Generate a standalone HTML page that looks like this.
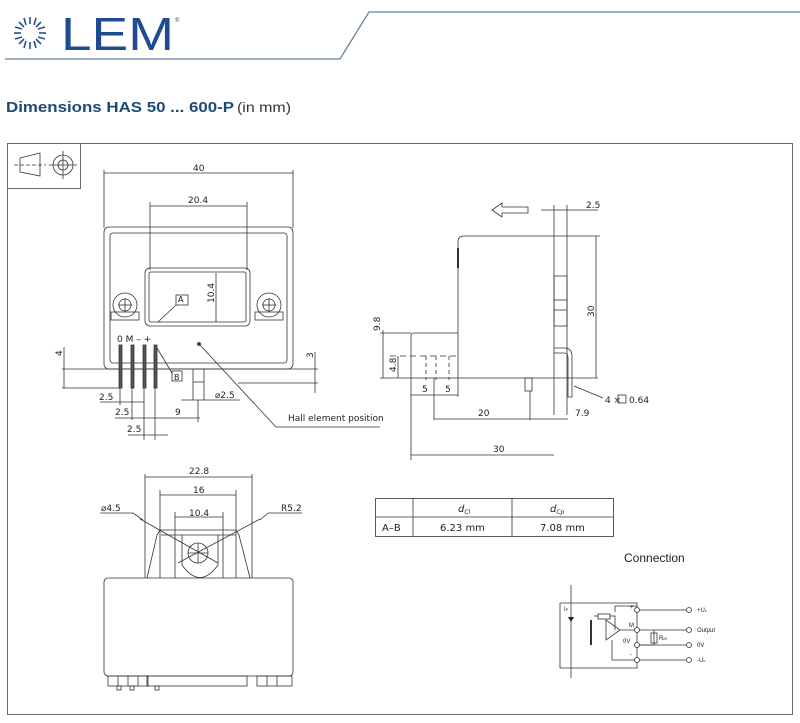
<!DOCTYPE html>
<html><head><meta charset="utf-8"><style>
html,body{margin:0;padding:0;background:#fff;width:800px;height:723px;overflow:hidden}
svg{display:block}
.t{font-family:"DejaVu Sans","Liberation Sans",sans-serif;font-size:9px;fill:#222}
</style></head><body>
<svg width="800" height="723" viewBox="0 0 800 723" xmlns="http://www.w3.org/2000/svg">
<!-- header -->
<g stroke="#2a4f8f" stroke-width="1.6">
<line x1="30" y1="17" x2="30" y2="24"/><line x1="30" y1="42" x2="30" y2="49"/>
<line x1="14" y1="33" x2="21" y2="33"/><line x1="39" y1="33" x2="46" y2="33"/>
<line x1="19" y1="22" x2="24" y2="27"/><line x1="36" y1="39" x2="41" y2="44"/>
<line x1="41" y1="22" x2="36" y2="27"/><line x1="24" y1="39" x2="19" y2="44"/>
<line x1="24" y1="18" x2="26" y2="25"/><line x1="36" y1="18" x2="34" y2="25"/>
<line x1="24" y1="48" x2="26" y2="41"/><line x1="36" y1="48" x2="34" y2="41"/>
<line x1="15" y1="27" x2="22" y2="29"/><line x1="45" y1="27" x2="38" y2="29"/>
<line x1="15" y1="39" x2="22" y2="37"/><line x1="45" y1="39" x2="38" y2="37"/>
</g>
<text x="61" y="50" font-family="Liberation Sans,sans-serif" font-size="46" fill="#1f4b93" textLength="113" lengthAdjust="spacingAndGlyphs">LEM</text>
<text x="175" y="22" font-family="Liberation Sans,sans-serif" font-size="6" fill="#1f4b93">®</text>
<polyline points="5,59 340,59 369,12 800,12" fill="none" stroke="#5f7f99" stroke-width="1.2"/>
<text x="6" y="112" font-family="Liberation Sans,sans-serif" font-size="15" font-weight="bold" fill="#1c4a78" textLength="228" lengthAdjust="spacingAndGlyphs">Dimensions HAS 50 ... 600-P</text>
<text x="237" y="112" font-family="Liberation Sans,sans-serif" font-size="14" fill="#333" textLength="54" lengthAdjust="spacingAndGlyphs">(in mm)</text>

<!-- frame -->
<rect x="7.5" y="143.5" width="785" height="571" fill="none" stroke="#666" stroke-width="1"/>
<rect x="7.5" y="143.5" width="73" height="45" fill="none" stroke="#666" stroke-width="1"/>
<g stroke="#333" fill="none" stroke-width="0.8">
<polygon points="20,158 40,153 40,176 20,172"/>
<line x1="14" y1="165" x2="46" y2="165" stroke-dasharray="4,2"/>
<circle cx="63" cy="165" r="10"/><circle cx="63" cy="165" r="5"/>
<line x1="49" y1="165" x2="77" y2="165"/><line x1="63" y1="151" x2="63" y2="179"/>
</g>

<g stroke="#333" fill="none" stroke-width="0.8">
<!-- front view -->
<line x1="104" y1="170" x2="104" y2="228"/><line x1="293" y1="170" x2="293" y2="228"/>
<line x1="104" y1="173" x2="293" y2="173"/>
<line x1="150" y1="202" x2="150" y2="270"/><line x1="247" y1="202" x2="247" y2="270"/>
<line x1="150" y1="206" x2="247" y2="206"/>
<rect x="104" y="227" width="189" height="142" rx="5"/>
<rect x="110" y="233" width="177" height="130" rx="3"/>
<rect x="145" y="268" width="105" height="58" rx="5"/>
<rect x="149" y="272" width="97" height="50" rx="2"/>
<line x1="216" y1="273" x2="216" y2="322"/>
<rect x="176" y="295" width="12" height="10"/>
<line x1="176" y1="305" x2="158" y2="322"/>
<circle cx="125" cy="305" r="12"/><circle cx="125" cy="305" r="6"/>
<line x1="118" y1="305" x2="132" y2="305"/><line x1="125" y1="298" x2="125" y2="312"/>
<rect x="111" y="312" width="28" height="8"/>
<circle cx="269" cy="305" r="12"/><circle cx="269" cy="305" r="6"/>
<line x1="262" y1="305" x2="276" y2="305"/><line x1="269" y1="298" x2="269" y2="312"/>
<rect x="255" y="312" width="28" height="8"/>
<line x1="62" y1="369" x2="318" y2="369"/>
<line x1="62" y1="388" x2="120" y2="388"/><line x1="238" y1="383" x2="318" y2="383"/>
<line x1="64" y1="347" x2="64" y2="388"/><line x1="315" y1="352" x2="315" y2="393"/>
<rect x="119" y="345" width="3" height="43" fill="#555"/>
<rect x="131" y="345" width="3" height="43" fill="#555"/>
<rect x="143" y="345" width="3" height="43" fill="#555"/>
<rect x="154" y="345" width="3" height="43" fill="#555"/>
<rect x="172" y="371" width="10" height="10"/>
<line x1="157" y1="348" x2="172" y2="373"/>
<line x1="193" y1="369" x2="193" y2="400"/><line x1="204" y1="369" x2="204" y2="400"/>
<line x1="193" y1="382" x2="204" y2="382"/>
<line x1="181" y1="400" x2="240" y2="400"/>
<line x1="100" y1="402" x2="144" y2="402"/>
<line x1="115" y1="418" x2="200" y2="418"/>
<line x1="128" y1="435" x2="168" y2="435"/>
<line x1="120" y1="388" x2="120" y2="405"/><line x1="132" y1="388" x2="132" y2="420"/>
<line x1="144" y1="388" x2="144" y2="440"/><line x1="155" y1="388" x2="155" y2="440"/>
<line x1="198" y1="400" x2="198" y2="422"/>
<circle cx="199" cy="344" r="1.5" fill="#333"/>
<polyline points="199,344 276,427 380,427"/>

<!-- side view -->
<polygon points="492,210 502,203 502,207 528,207 528,213 502,213 502,217" />
<line x1="541" y1="210" x2="598" y2="210"/>
<line x1="554" y1="205" x2="554" y2="415"/><line x1="567" y1="205" x2="567" y2="415"/>
<path d="M458,378 L458,242 Q458,236 464,236 L554,236"/>
<line x1="554" y1="236" x2="600" y2="236"/><line x1="596" y1="236" x2="596" y2="378"/>
<line x1="458" y1="248" x2="458" y2="268" stroke-width="2"/>
<path d="M411,378 L411,336 Q411,333 414,333 L458,333"/>
<line x1="380" y1="333" x2="411" y2="333"/>
<line x1="380" y1="378" x2="598" y2="378"/>
<line x1="383" y1="330" x2="383" y2="378"/>
<line x1="390" y1="356" x2="458" y2="356" stroke-dasharray="6,4"/>
<line x1="398" y1="356" x2="398" y2="378"/>
<line x1="426" y1="356" x2="426" y2="380" stroke-dasharray="4,3"/>
<line x1="436" y1="356" x2="436" y2="380" stroke-dasharray="4,3"/>
<line x1="449" y1="356" x2="449" y2="380" stroke-dasharray="4,3"/>
<line x1="411" y1="378" x2="411" y2="460"/><line x1="434" y1="378" x2="434" y2="420"/>
<line x1="458" y1="378" x2="458" y2="397"/>
<line x1="411" y1="395" x2="458" y2="395"/>
<line x1="434" y1="419" x2="568" y2="419"/>
<line x1="411" y1="455" x2="554" y2="455"/>
<rect x="525" y="378" width="7" height="13"/>
<line x1="530" y1="391" x2="530" y2="420"/>
<rect x="554" y="276" width="13" height="50"/>
<line x1="554" y1="300" x2="567" y2="300"/><line x1="554" y1="310" x2="567" y2="310"/>
<path d="M554,353 L564,353 Q568,353 568,358 L568,397 L572,397 L572,356 Q572,348 564,348 L554,348"/>
<line x1="574" y1="386" x2="603" y2="398"/>
<rect x="618" y="395" width="8" height="8"/>

<!-- bottom view -->
<line x1="145" y1="474" x2="145" y2="578"/><line x1="252" y1="474" x2="252" y2="578"/>
<line x1="145" y1="477" x2="252" y2="477"/>
<line x1="160" y1="490" x2="160" y2="578"/><line x1="236" y1="490" x2="236" y2="578"/>
<line x1="160" y1="495" x2="236" y2="495"/>
<line x1="175" y1="512" x2="175" y2="578"/><line x1="223" y1="512" x2="223" y2="578"/>
<line x1="175" y1="517" x2="223" y2="517"/>
<path d="M147,578 L157,535 L160,530 L236,530 L239,535 L250,578"/>
<line x1="161" y1="535" x2="236" y2="535"/>
<path d="M182,535 L182,565 Q200,590 218,565 L218,535"/>
<circle cx="198" cy="553" r="10"/>
<line x1="188" y1="553" x2="208" y2="553"/><line x1="198" y1="543" x2="198" y2="563"/>
<line x1="140" y1="519" x2="218" y2="563"/>
<line x1="260" y1="519" x2="178" y2="563"/>
<line x1="100" y1="513" x2="133" y2="513"/><line x1="133" y1="513" x2="143" y2="520"/>
<line x1="260" y1="520" x2="268" y2="513"/><line x1="268" y1="513" x2="302" y2="513"/>
<rect x="104" y="578" width="189" height="98" rx="4"/>
<rect x="108" y="676" width="40" height="10"/><rect x="147" y="676" width="100" height="10"/>
<rect x="257" y="676" width="35" height="10"/>
<line x1="118" y1="676" x2="118" y2="686"/><line x1="128" y1="676" x2="128" y2="686"/><line x1="138" y1="676" x2="138" y2="686"/>
<line x1="267" y1="676" x2="267" y2="686"/><line x1="277" y1="676" x2="277" y2="686"/>
<rect x="117" y="686" width="4" height="4"/><rect x="130" y="686" width="4" height="4"/><rect x="155" y="686" width="4" height="4"/>

<!-- table -->
<rect x="375.5" y="498.5" width="238" height="38"/>
<line x1="375" y1="517" x2="613" y2="517"/>
<line x1="413" y1="498" x2="413" y2="536"/><line x1="512" y1="498" x2="512" y2="536"/>

<!-- circuit -->
<line x1="571" y1="585" x2="571" y2="678"/>
<polyline points="560,603 637,603 637,668 560,668 560,603"/>
<line x1="591" y1="620" x2="591" y2="645" stroke-width="2"/>
<polygon points="606,620 606,640 620,630"/>
<polyline points="620,630 637,630"/>
<rect x="598" y="614" width="12" height="5"/>
<polyline points="594,616 598,616"/><polyline points="610,616 615,616 615,630"/>
<polyline points="615,612 615,606 637,606"/>
<polyline points="612,660 612,640"/><polyline points="612,660 637,660"/>
<polyline points="637,645 654,645 654,630"/>
<rect x="651" y="633" width="6" height="10"/>
<line x1="637" y1="610" x2="686" y2="610"/><line x1="637" y1="630" x2="686" y2="630"/>
<line x1="637" y1="645" x2="686" y2="645"/><line x1="637" y1="660" x2="686" y2="660"/>
<circle cx="637" cy="610" r="2.5" fill="#fff"/><circle cx="637" cy="630" r="2.5" fill="#fff"/>
<circle cx="637" cy="645" r="2.5" fill="#fff"/><circle cx="637" cy="660" r="2.5" fill="#fff"/>
<circle cx="689" cy="610" r="2.5" fill="#fff"/><circle cx="689" cy="630" r="2.5" fill="#fff"/>
<circle cx="689" cy="645" r="2.5" fill="#fff"/><circle cx="689" cy="660" r="2.5" fill="#fff"/>
</g>
<polygon points="568,617 574,617 571,622" fill="#222"/>

<g class="t">
<text x="193" y="171">40</text>
<text x="188" y="203">20.4</text>
<text x="178" y="302" font-size="8">A</text>
<text x="214" y="303" transform="rotate(-90 214 303)">10.4</text>
<text x="117" y="342">0 M – +</text>
<text x="174" y="380" font-size="8">B</text>
<text x="62" y="356" transform="rotate(-90 62 356)">4</text>
<text x="313" y="358" transform="rotate(-90 313 358)">3</text>
<text x="99" y="400">2.5</text>
<text x="215" y="398">⌀2.5</text>
<text x="115" y="415">2.5</text>
<text x="175" y="415">9</text>
<text x="127" y="432">2.5</text>
<text x="288" y="421">Hall element position</text>
<text x="586" y="208">2.5</text>
<text x="594" y="317" transform="rotate(-90 594 317)">30</text>
<text x="380" y="331" transform="rotate(-90 380 331)">9.8</text>
<text x="396" y="372" transform="rotate(-90 396 372)">4.8</text>
<text x="422" y="392">5</text><text x="445" y="392">5</text>
<text x="478" y="416">20</text>
<text x="575" y="416">7.9</text>
<text x="493" y="452">30</text>
<text x="605" y="403">4 ×</text><text x="629" y="403">0.64</text>
<text x="189" y="474">22.8</text>
<text x="193" y="493">16</text>
<text x="189" y="516">10.4</text>
<text x="101" y="511">⌀4.5</text>
<text x="281" y="511">R5.2</text>
<text x="458" y="512" font-style="italic" font-size="10">d<tspan font-size="6" dy="2">Cl</tspan></text>
<text x="550" y="512" font-style="italic" font-size="10">d<tspan font-size="6" dy="2">Cp</tspan></text>
<text x="382" y="531" font-size="10">A–B</text>
<text x="440" y="531" font-size="10">6.23  mm</text>
<text x="540" y="531" font-size="10">7.08  mm</text>
</g>
<text x="624" y="562" font-family="Liberation Sans,sans-serif" font-size="12" fill="#222">Connection</text>
<g font-family="Liberation Sans,sans-serif" font-size="6" fill="#222">
<text x="697" y="612">+U<tspan font-size="4">c</tspan></text>
<text x="697" y="632">Output</text>
<text x="697" y="647">0V</text>
<text x="697" y="662">-U<tspan font-size="4">c</tspan></text>
<text x="629" y="627">M</text><text x="623" y="643">0V</text>
<text x="630" y="609">+</text><text x="630" y="656">-</text>
<text x="564" y="611">I<tspan font-size="4">P</tspan></text>
<text x="659" y="640">R<tspan font-size="4">M</tspan></text>
</g>
</svg>
</body></html>
